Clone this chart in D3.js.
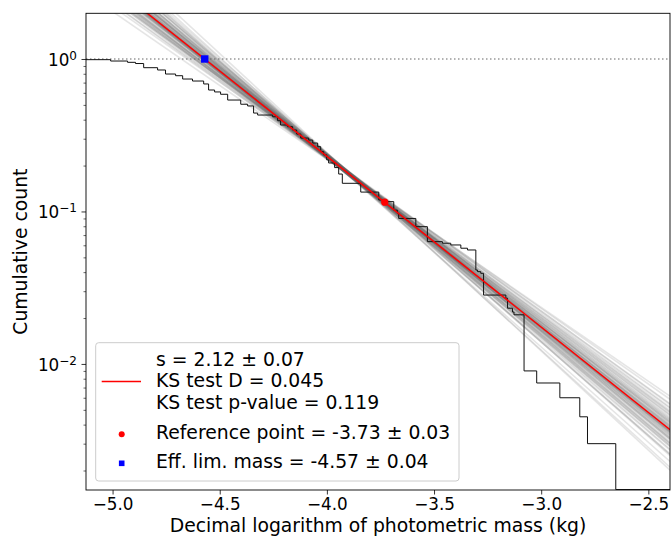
<!DOCTYPE html>
<html>
<head>
<meta charset="utf-8">
<script src="https://cdn.jsdelivr.net/npm/d3@7"></script>
<style>
  body { margin: 0; background: #fff; }
  svg { display: block; font-family: "DejaVu Sans", sans-serif; }
</style>
</head>
<body>
<div id="chart"></div>
<script>
// axis ticks
const xTicks = [-5.0, -4.5, -4.0, -3.5, -3.0, -2.5];
const yTicks = [0.01, 0.1, 1];
const yTickExp = ["\u22122", "\u22121", "0"];
const yMinor = [0.002, 0.003, 0.004, 0.005, 0.006, 0.007, 0.008, 0.009,
                0.02, 0.03, 0.04, 0.05, 0.06, 0.07, 0.08, 0.09,
                0.2, 0.3, 0.4, 0.5, 0.6, 0.7, 0.8, 0.9];

// cumulative count of the sample (step after each mass)
const ecdfX = [-5.20, -5.009, -4.930, -4.893, -4.855, -4.790, -4.753, -4.706, -4.673, -4.627,
               -4.575, -4.552, -4.524, -4.496, -4.463, -4.402, -4.370, -4.342, -4.323, -4.253,
               -4.230, -4.216, -4.183, -4.160, -4.141, -4.122, -4.085, -4.066, -4.043, -4.029,
               -4.015, -4.001, -3.992, -3.964, -3.945, -3.928, -3.842, -3.758, -3.739, -3.688,
               -3.671, -3.665, -3.585, -3.531, -3.461, -3.422, -3.375, -3.344, -3.305, -3.297,
               -3.282, -3.269, -3.165, -3.157, -3.134, -3.127, -3.080, -3.021, -2.913, -2.820,
               -2.784, -2.652, -2.30];
const ecdfY = [0.990, 0.970, 0.951, 0.934, 0.877, 0.847, 0.797, 0.777, 0.739, 0.717,
               0.686, 0.626, 0.608, 0.587, 0.538, 0.505, 0.492, 0.442, 0.429, 0.418,
               0.394, 0.369, 0.360, 0.342, 0.322, 0.303, 0.294, 0.281, 0.266, 0.247,
               0.235, 0.218, 0.208, 0.194, 0.176, 0.153, 0.134, 0.119, 0.116, 0.102,
               0.0973, 0.0900, 0.0795, 0.0634, 0.0619, 0.0603, 0.0574, 0.0559, 0.0413, 0.0403,
               0.0393, 0.0283, 0.0270, 0.0232, 0.0219, 0.0210, 0.0090, 0.0075, 0.0060, 0.0045,
               0.0030, 0.0015, 0.0015];

// bootstrap fits: power-law index s and log mass where count = 1
const bootS = [2.05, 2.18, 2.11, 2.09, 2.21, 2.14, 2.02, 2.16, 2.12, 2.07,
               2.25, 2.10, 2.13, 1.99, 2.19, 2.08, 2.15, 2.12, 2.04, 2.23,
               2.11, 2.17, 2.06, 2.13, 2.28, 2.10, 2.01, 2.14, 2.20, 2.09,
               2.12, 2.16, 2.03, 2.18, 2.11, 2.07, 2.24, 2.13, 2.05, 2.15,
               1.97, 2.12, 2.19, 2.10, 2.08, 2.22, 2.14, 2.06, 2.17, 2.11,
               2.30, 2.09, 2.13, 2.02, 2.16, 2.12, 2.20, 2.04, 2.15, 2.10];
const bootLim = [-4.604, -4.544, -4.572, -4.600, -4.514, -4.561, -4.621, -4.538, -4.580, -4.599,
                 -4.511, -4.569, -4.570, -4.653, -4.534, -4.586, -4.565, -4.559, -4.628, -4.507,
                 -4.585, -4.529, -4.610, -4.557, -4.491, -4.592, -4.637, -4.548, -4.537, -4.584,
                 -4.573, -4.555, -4.617, -4.531, -4.567, -4.612, -4.497, -4.576, -4.618, -4.546,
                 -4.679, -4.568, -4.520, -4.584, -4.603, -4.522, -4.545, -4.601, -4.551, -4.581,
                 -4.473, -4.576, -4.563, -4.644, -4.544, -4.577, -4.516, -4.616, -4.553, -4.574];

// best fit
const fitS = 2.12;
const fitLim = -4.57;
const refX = -3.73;
const refY = 0.115;
const legendLines = ["s = 2.12 \u00b1 0.07", "KS test D = 0.045", "KS test p-value = 0.119"];
const refLabel = "Reference point = -3.73 \u00b1 0.03";
const limLabel = "Eff. lim. mass = -4.57 \u00b1 0.04";

const W = 671, H = 537;
const mLeft = 86, mRight = 670, mTop = 13.3, mBottom = 490;

const svg = d3.select("#chart").append("svg")
    .attr("width", W)
    .attr("height", H);

const x = d3.scaleLinear().domain([-5.124, -2.399]).range([mLeft, mRight]);
const y = d3.scaleLog().domain([0.00149, 1.994]).range([mBottom, mTop]);

svg.append("clipPath").attr("id", "plotclip")
    .append("rect")
    .attr("x", mLeft).attr("y", mTop)
    .attr("width", mRight - mLeft).attr("height", mBottom - mTop);

const plot = svg.append("g").attr("clip-path", "url(#plotclip)");

// dotted line at 1
plot.append("line")
    .attr("x1", mLeft).attr("x2", mRight)
    .attr("y1", y(1)).attr("y2", y(1))
    .attr("stroke", "#999")
    .attr("stroke-width", 1.5)
    .attr("stroke-dasharray", "1.5,2.5");

const powerLine = (s, lim) => {
    const xs = x.domain();
    return xs.map(v => [v, Math.pow(10, -(s - 1) * (v - lim))]);
};
const line = d3.line().x(d => x(d[0])).y(d => y(d[1]));

// bootstrap lines
plot.selectAll(".boot")
    .data(bootS.map((s, i) => powerLine(s, bootLim[i])))
    .enter()
    .append("path")
    .attr("class", "boot")
    .attr("d", line)
    .attr("fill", "none")
    .attr("stroke", "#666")
    .attr("stroke-opacity", 0.17)
    .attr("stroke-width", 1.6);

// cumulative count
const ecdf = ecdfX.map((v, i) => [v, ecdfY[i]]);
plot.append("path")
    .datum(ecdf)
    .attr("d", d3.line().x(d => x(d[0])).y(d => y(d[1])).curve(d3.curveStepAfter))
    .attr("fill", "none")
    .attr("stroke", "#111")
    .attr("stroke-width", 1);

// best fit line
plot.append("path")
    .datum(powerLine(fitS, fitLim))
    .attr("d", line)
    .attr("fill", "none")
    .attr("stroke", "red")
    .attr("stroke-width", 1.5);

// points
plot.append("circle")
    .attr("cx", x(refX)).attr("cy", y(refY))
    .attr("r", 3.6)
    .attr("fill", "red");
plot.append("rect")
    .attr("x", x(fitLim) - 3.7).attr("y", y(1) - 3.7)
    .attr("width", 7.4).attr("height", 7.4)
    .attr("fill", "blue");

// axes
const xAxis = d3.axisBottom(x)
    .tickValues(xTicks)
    .tickFormat(d3.format(".1f"))
    .tickSize(4.5)
    .tickPadding(3.5);
const gx = svg.append("g")
    .attr("transform", "translate(0," + mBottom + ")")
    .call(xAxis);
gx.select(".domain").remove();
gx.selectAll("text").attr("font-size", "16.8px").attr("fill", "#000").attr("font-family", "DejaVu Sans");
gx.selectAll("line").attr("stroke", "#000").attr("stroke-width", 0.8);

const gyMinor = svg.append("g")
    .attr("transform", "translate(" + mLeft + ",0)")
    .call(d3.axisLeft(y).tickValues(yMinor).tickFormat("").tickSize(2.5));
gyMinor.select(".domain").remove();
gyMinor.selectAll("line").attr("stroke", "#000").attr("stroke-width", 0.6);

const gy = svg.append("g")
    .attr("transform", "translate(" + mLeft + ",0)")
    .call(d3.axisLeft(y).tickValues(yTicks).tickFormat("").tickSize(4.5).tickPadding(4.5));
gy.select(".domain").remove();
gy.selectAll("line").attr("stroke", "#000").attr("stroke-width", 0.8);
gy.selectAll(".tick text")
    .attr("font-size", "16.8px")
    .attr("font-family", "DejaVu Sans")
    .attr("fill", "#000")
    .attr("dy", null)
    .attr("y", 6.3)
    .each(function (d, i) {
        const t = d3.select(this);
        t.text(null);
        t.append("tspan").text("10");
        t.append("tspan").attr("dy", -6.2).attr("font-size", "12px").text(yTickExp[i]);
    });

// frame
svg.append("rect")
    .attr("x", mLeft).attr("y", mTop)
    .attr("width", mRight - mLeft).attr("height", mBottom - mTop)
    .attr("fill", "none")
    .attr("stroke", "#000")
    .attr("stroke-width", 0.9);

// axis labels
svg.append("text")
    .attr("x", (mLeft + mRight) / 2)
    .attr("y", 532)
    .attr("text-anchor", "middle")
    .attr("font-size", "18.8px")
    .text("Decimal logarithm of photometric mass (kg)");

svg.append("text")
    .attr("transform", "translate(27," + (mTop + mBottom) / 2 + ") rotate(-90)")
    .attr("text-anchor", "middle")
    .attr("font-size", "18.8px")
    .text("Cumulative count");

// legend
const lg = svg.append("g");
lg.append("rect")
    .attr("x", 95.7).attr("y", 342.7)
    .attr("width", 363.3).attr("height", 138.3)
    .attr("rx", 3)
    .attr("fill", "#fff").attr("fill-opacity", 0.8)
    .attr("stroke", "#cccccc").attr("stroke-width", 1);

lg.append("line")
    .attr("x1", 101.7).attr("x2", 141)
    .attr("y1", 381.5).attr("y2", 381.5)
    .attr("stroke", "red").attr("stroke-width", 1.5);

const textX = 156;
lg.selectAll(".fitline")
    .data(legendLines)
    .enter()
    .append("text")
    .attr("class", "fitline")
    .attr("x", textX)
    .attr("y", (d, i) => 365.7 + i * 21.5)
    .attr("font-size", "18.8px")
    .text(d => d);

lg.append("circle")
    .attr("cx", 121.7).attr("cy", 434.3).attr("r", 3)
    .attr("fill", "red");
lg.append("text")
    .attr("x", textX).attr("y", 439.3)
    .attr("font-size", "18.8px")
    .text(refLabel);

lg.append("rect")
    .attr("x", 121.7 - 2.8).attr("y", 463.3 - 2.8)
    .attr("width", 5.6).attr("height", 5.6)
    .attr("fill", "blue");
lg.append("text")
    .attr("x", textX).attr("y", 468.3)
    .attr("font-size", "18.8px")
    .text(limLabel);
</script>
</body>
</html>
